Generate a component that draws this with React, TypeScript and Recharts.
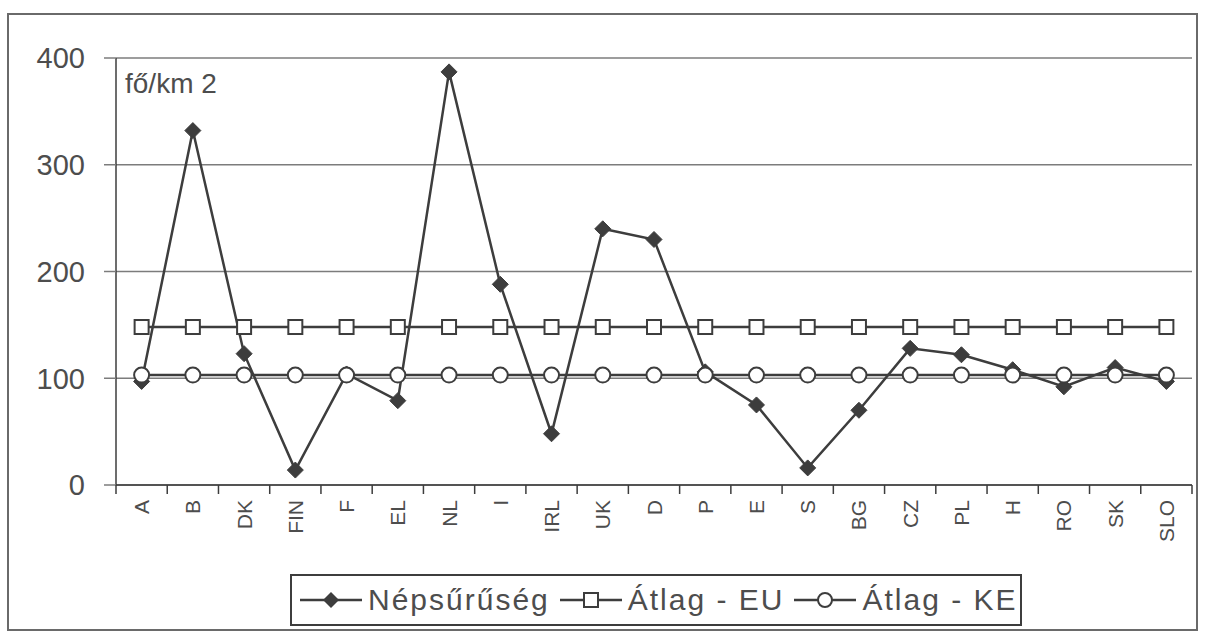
import { LineChart, Line, XAxis, YAxis, CartesianGrid, Legend, Label } from 'recharts';

const countries = ['A', 'B', 'DK', 'FIN', 'F', 'EL', 'NL', 'I', 'IRL', 'UK', 'D', 'P', 'E', 'S', 'BG', 'CZ', 'PL', 'H', 'RO', 'SK', 'SLO'];
const density = [97, 332, 123, 14, 104, 79, 387, 188, 48, 240, 230, 106, 75, 16, 70, 128, 122, 108, 92, 110, 97];
const euAverage = [148, 148, 148, 148, 148, 148, 148, 148, 148, 148, 148, 148, 148, 148, 148, 148, 148, 148, 148, 148, 148];
const keAverage = [103, 103, 103, 103, 103, 103, 103, 103, 103, 103, 103, 103, 103, 103, 103, 103, 103, 103, 103, 103, 103];
const yTicks = [0, 100, 200, 300, 400];

const data = countries.map((country, i) => ({
  country,
  density: density[i],
  eu: euAverage[i],
  ke: keAverage[i],
}));

const INK = '#3d3d3d';
const GRID = '#7c7c7c';
const TEXT = '#4d4d4d';
const FONT = '"Liberation Sans", Arial, sans-serif';

const diamond = (props: any) => {
  const { cx, cy, index } = props;
  if (cx == null || cy == null) return <g key={`dm-${index}`} />;
  return (
    <polygon
      key={`dm-${index}`}
      points={`${cx},${cy - 8} ${cx + 8},${cy} ${cx},${cy + 8} ${cx - 8},${cy}`}
      fill={INK}
      stroke={INK}
    />
  );
};

const square = (props: any) => {
  const { cx, cy, index } = props;
  if (cx == null || cy == null) return <g key={`sq-${index}`} />;
  return <rect key={`sq-${index}`} x={cx - 7} y={cy - 7} width={14} height={14} fill="#fff" stroke={INK} strokeWidth={2} />;
};

const circle = (props: any) => {
  const { cx, cy, index } = props;
  if (cx == null || cy == null) return <g key={`ci-${index}`} />;
  return <circle key={`ci-${index}`} cx={cx} cy={cy} r={7.5} fill="#fff" stroke={INK} strokeWidth={2} />;
};

// category labels rotated, with Excel-style tick marks between the categories
function CountryTick(props: any) {
  const { x, y, payload, index, visibleTicksCount, width } = props;
  const half = width && visibleTicksCount ? width / visibleTicksCount / 2 : 25.6;
  const axisY = y - 15;
  return (
    <g>
      <line x1={x - half} y1={axisY} x2={x - half} y2={axisY + 9} stroke={INK} strokeWidth={1.5} />
      {index === visibleTicksCount - 1 && (
        <line x1={x + half} y1={axisY} x2={x + half} y2={axisY + 9} stroke={INK} strokeWidth={1.5} />
      )}
      <text
        x={x}
        y={y}
        dy="0.36em"
        transform={`rotate(-90 ${x} ${y})`}
        textAnchor="end"
        fill={TEXT}
        fontSize={21}
        fontFamily={FONT}
      >
        {payload.value}
      </text>
    </g>
  );
}

const legendItems = [
  { name: 'Népsűrűség', kind: 'diamond' },
  { name: 'Átlag - EU', kind: 'square' },
  { name: 'Átlag - KE', kind: 'circle' },
];

function LegendIcon({ kind }: { kind: string }) {
  return (
    <svg width={62} height={30} style={{ display: 'block' }}>
      <line x1={0} y1={15} x2={62} y2={15} stroke={INK} strokeWidth={2.5} />
      {kind === 'diamond' && <polygon points="31,7 39,15 31,23 23,15" fill={INK} />}
      {kind === 'square' && <rect x={24} y={8} width={14} height={14} fill="#fff" stroke={INK} strokeWidth={2} />}
      {kind === 'circle' && <circle cx={31} cy={15} r={7} fill="#fff" stroke={INK} strokeWidth={2} />}
    </svg>
  );
}

function BoxLegend() {
  return (
    <div
      style={{
        height: 52,
        boxSizing: 'border-box',
        border: `2px solid ${INK}`,
        background: '#fff',
        display: 'flex',
        alignItems: 'center',
        paddingLeft: 8,
        fontFamily: FONT,
        fontSize: 30,
        color: TEXT,
        letterSpacing: 2,
        whiteSpace: 'nowrap',
      }}
    >
      {legendItems.map((item) => (
        <div key={item.name} style={{ display: 'flex', alignItems: 'center', marginRight: 10 }}>
          <LegendIcon kind={item.kind} />
          <span style={{ marginLeft: 6 }}>{item.name}</span>
        </div>
      ))}
    </div>
  );
}

export default function App() {
  return (
    <div style={{ position: 'absolute', left: 0, top: 0, width: 1206, height: 633, background: '#fff' }}>
      <div
        style={{
          position: 'absolute',
          left: 7,
          top: 13,
          width: 1191,
          height: 618,
          boxSizing: 'border-box',
          border: '2px solid #6a6a6a',
        }}
      />
      <LineChart width={1206} height={633} data={data} margin={{ top: 58, right: 14, left: 0, bottom: 7 }}>
        <CartesianGrid vertical={false} stroke={GRID} strokeWidth={1.5} />
        <XAxis
          dataKey="country"
          scale="band"
          interval={0}
          height={89}
          tickSize={8}
          tickMargin={7}
          tickLine={false}
          axisLine={{ stroke: INK, strokeWidth: 1.5 }}
          tick={<CountryTick />}
        />
        <YAxis
          domain={[0, 400]}
          ticks={yTicks}
          width={116}
          tickSize={12}
          tickMargin={19}
          axisLine={{ stroke: INK, strokeWidth: 1.5 }}
          tickLine={{ stroke: GRID, strokeWidth: 1.5 }}
          tick={{ fill: TEXT, fontSize: 29, fontFamily: FONT }}
        >
          <Label
            content={(props: any) => {
              const vb = props.viewBox || { x: 0, y: 58, width: 116 };
              return (
                <text x={vb.x + vb.width + 9} y={vb.y + 35} fill={TEXT} fontSize={28} fontFamily={FONT}>
                  fő/km 2
                </text>
              );
            }}
          />
        </YAxis>
        <Legend verticalAlign="bottom" content={<BoxLegend />} wrapperStyle={{ left: 290, width: 732 }} />
        <Line
          dataKey="density"
          name="Népsűrűség"
          stroke={INK}
          strokeWidth={2.5}
          dot={diamond}
          activeDot={false}
          isAnimationActive={false}
        />
        <Line
          dataKey="eu"
          name="Átlag - EU"
          stroke={INK}
          strokeWidth={2.5}
          dot={square}
          activeDot={false}
          isAnimationActive={false}
        />
        <Line
          dataKey="ke"
          name="Átlag - KE"
          stroke={INK}
          strokeWidth={2.5}
          dot={circle}
          activeDot={false}
          isAnimationActive={false}
        />
      </LineChart>
    </div>
  );
}
